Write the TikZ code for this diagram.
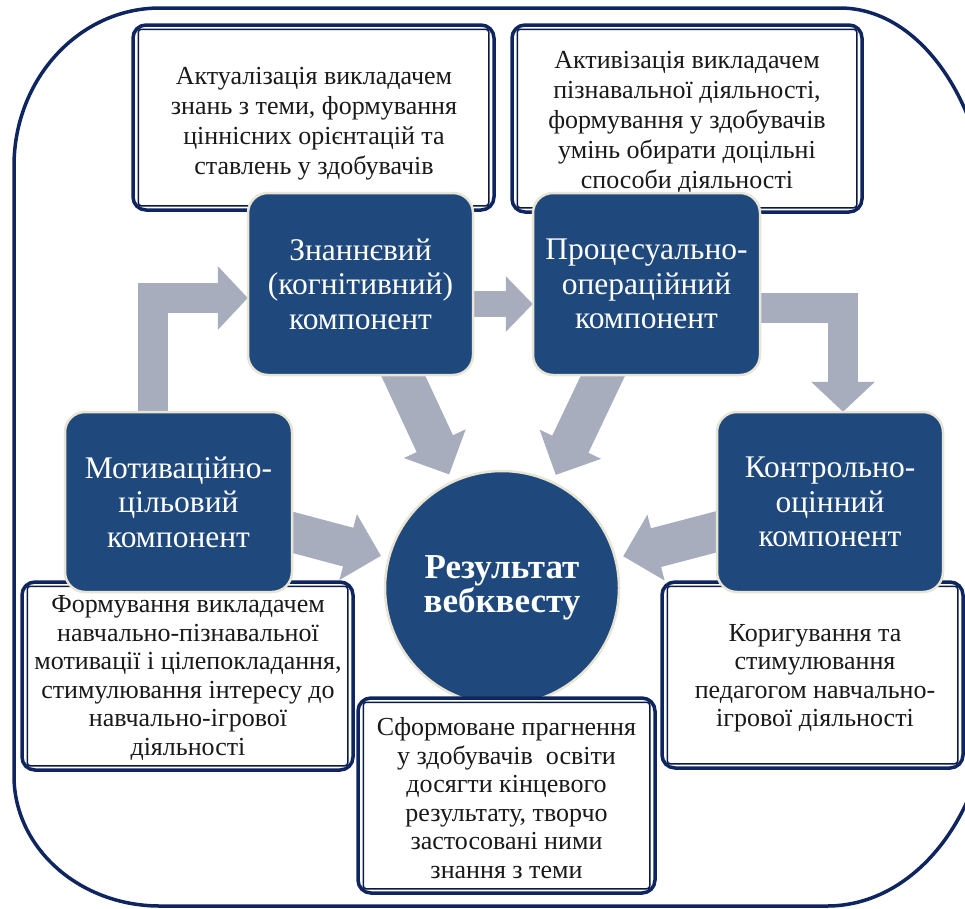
\documentclass[tikz,border=0pt]{standalone}
\usepackage{fontspec}
\setmainfont{Liberation Serif}
\usetikzlibrary{arrows.meta}
\definecolor{navy}{RGB}{15,37,95}
\definecolor{boxblue}{RGB}{31,73,125}
\definecolor{cream}{RGB}{232,229,212}
\definecolor{arrowgray}{RGB}{168,173,189}
\definecolor{txtblack}{RGB}{25,25,25}
\tikzset{
  outerframe/.style={draw=navy, line width=3.5pt},
  wbox/.style={draw=navy, line width=3.5pt, rounded corners=13pt, fill=white, inner sep=0pt},
  winner/.style={draw=navy!70!black, line width=1.5pt, rounded corners=3pt},
  wtext/.style={text=txtblack, align=center, inner sep=0pt, font=\fontsize{26}{30}\selectfont},
  wtextb/.style={wtext, font=\fontsize{26}{28.5}\selectfont},
  bbox/.style={draw=cream, line width=2.5pt, rounded corners=20pt, fill=boxblue, text=white, align=center, inner sep=0pt, font=\fontsize{31.5}{34.5}\selectfont},
  cnode/.style={circle, draw=cream, line width=2.5pt, fill=boxblue, text=white, align=center, inner sep=0pt, minimum size=234pt, font=\fontsize{35}{34}\selectfont\bfseries},
  flowA/.style={draw=arrowgray, line width=30pt, -{Triangle[width=62pt,length=30pt]}},
  flowB/.style={draw=arrowgray, line width=26pt, -{Triangle[width=54pt,length=27pt]}},
  flowD/.style={draw=arrowgray, line width=40pt, -{Triangle[width=66pt,length=34pt]}, shorten >=8pt},
}
\begin{document}
\begin{tikzpicture}[x=1pt,y=-1pt]
\useasboundingbox (0,0) rectangle (965,908);
\clip (0,0) rectangle (965,908);
\fill[white] (0,0) rectangle (965,908);
% outer frame
\draw[outerframe] (160,8) -- (840,8)
  arc[start angle=90, end angle=0, x radius=150pt, y radius=227pt]
  -- (990,692)
  arc[start angle=0, end angle=-90, x radius=163pt, y radius=214pt]
  -- (160,906)
  arc[start angle=-90, end angle=-180, x radius=146pt, y radius=130pt]
  -- (14,166)
  arc[start angle=180, end angle=90, x radius=146pt, y radius=158pt]
  -- cycle;
% white description boxes
\node[wbox, minimum width=361pt, minimum height=185pt] (b1) at (313.5,117.5) {};
\node[wbox, minimum width=350pt, minimum height=187pt] (b2) at (687,118.5) {};
\node[wbox, minimum width=331pt, minimum height=188pt] (b3) at (187.5,676) {};
\node[wbox, minimum width=301pt, minimum height=186pt] (b5) at (812.5,675) {};
\foreach \b in {b1,b2,b3,b5}{
  \draw[winner] ([shift={(7,6)}]\b.north west) rectangle ([shift={(-7,-6)}]\b.south east);
}
\node[wtext] (b1t) at (314,124) {Актуалізація викладачем\\знань з теми, формування\\ціннісних орієнтацій та\\ставлень у здобувачів};
\node[wtext] (b2t) at (687,122) {Активізація викладачем\\пізнавальної діяльності,\\формування у здобувачів\\умінь обирати доцільні\\способи діяльності};
\node[wtextb] (b3t) at (188,678) {Формування викладачем\\навчально-пізнавальної\\мотивації і цілепокладання,\\стимулювання інтересу до\\навчально-ігрової\\діяльності};
\node[wtextb] (b5t) at (815,678) {Коригування та\\стимулювання\\педагогом навчально-\\ігрової діяльності};
% coordinates of the component boxes (nodes drawn later, on top of arrows)
\path (360.5,284) coordinate (knowc) (646.5,284) coordinate (procc)
      (178.5,502) coordinate (motc) (830,502) coordinate (kontrc) (502,588) coordinate (circc);
% phantom nodes for arrow geometry
\node[minimum width=225pt, minimum height=182pt, inner sep=0pt] (know) at (knowc) {};
\node[minimum width=227pt, minimum height=182pt, inner sep=0pt] (proc) at (procc) {};
\node[minimum width=227pt, minimum height=180pt, inner sep=0pt] (mot) at (motc) {};
\node[minimum width=226pt, minimum height=180pt, inner sep=0pt] (kontr) at (kontrc) {};
\node[circle, minimum size=234pt, inner sep=0pt] (circ) at (circc) {};
% arrows
\draw[flowA] ([xshift=-26pt]mot.center) |- ([yshift=-14pt]know.west);
\draw[flowB] ([yshift=-20pt]know.center) -- ([yshift=-20pt]proc.west);
\draw[flowA] ([yshift=-24pt]proc.center) -| ([xshift=13pt]kontr.north);
\draw[flowD] (know.center) -- (circ);
\draw[flowD] (proc.center) -- (circ);
\draw[flowD] (mot.center) -- (circ);
\draw[flowD] (kontr.center) -- (circ);
% component boxes
\node[bbox, minimum width=225pt, minimum height=182pt] (knowb) at (knowc) {Знаннєвий\\(когнітивний)\\компонент};
\node[bbox, minimum width=227pt, minimum height=182pt] (procb) at (procc) {Процесуально-\\операційний\\компонент};
\node[bbox, minimum width=227pt, minimum height=180pt] (motb) at (motc) {Мотиваційно-\\цільовий\\компонент};
\node[bbox, minimum width=226pt, minimum height=180pt] (kontrb) at (kontrc) {Контрольно-\\оцінний\\компонент};
\node[cnode] (circb) at (circc) {Результат\\вебквесту};
% bottom middle box
\node[wbox, minimum width=297pt, minimum height=195pt] (b4) at (506.5,795.5) {};
\draw[winner] ([shift={(7,6)}]b4.north west) rectangle ([shift={(-7,-6)}]b4.south east);
\node[wtextb] (b4t) at (506.5,798) {Сформоване прагнення\\у здобувачів\ \ освіти\\досягти кінцевого\\результату, творчо\\застосовані ними\\знання з теми};
\end{tikzpicture}
\end{document}
